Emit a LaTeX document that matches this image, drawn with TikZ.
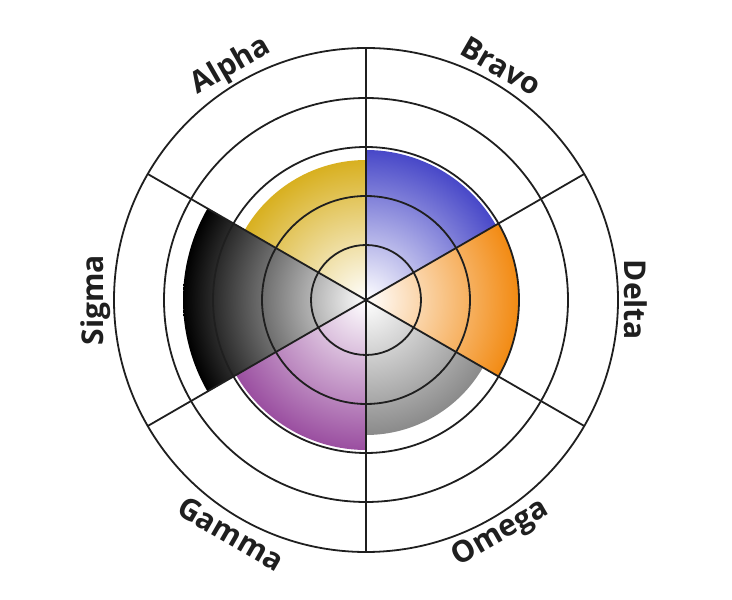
\documentclass[tikz,border=0pt]{standalone}
\usepackage{fontspec}
\setmainfont{Open Sans}
\usetikzlibrary{calc}
\begin{document}
\begin{tikzpicture}[x=1pt,y=1pt,
  grid/.style={draw=black!88,line width=1.8pt},
  lab/.style={font=\fontsize{30}{33}\selectfont\bfseries,text=black!88,inner sep=0pt}]
\useasboundingbox (0,0) rectangle (732,600);
\coordinate (c) at (366,300);
\definecolor{cA}{HTML}{D8B020}
\definecolor{cB}{HTML}{4848C8}
\definecolor{cD}{HTML}{F28A12}
\definecolor{cO}{HTML}{8A8A8A}
\definecolor{cG}{HTML}{9A4EA0}
\definecolor{cS}{HTML}{000000}
\foreach \a/\r/\col in {90/150/cB, 30/153/cD, -30/135/cO, -90/150/cG, -150/183/cS, 150/140/cA}{
  \begin{scope}
    \clip (c) -- ++(\a:\r) arc[start angle=\a, end angle=\a-60, radius=\r] -- cycle;
    \shade[inner color=white, outer color=\col] (c) circle (\r);
  \end{scope}
}
\foreach \r in {55,104,153,202,252}{ \draw[grid] (c) circle (\r); }
\foreach \a in {90,30,-30,-90,-150,150}{ \draw[grid] (c) -- ++(\a:252) coordinate (e\a); }
\node[lab,rotate=30] (alpha) at ($(c)+(120:270)$) {Alpha};
\node[lab,rotate=-30] (bravo) at ($(c)+(60:270)$) {Bravo};
\node[lab,rotate=-90] (delta) at ($(c)+(0:270)$) {Delta};
\node[lab,rotate=30] (omega) at ($(c)+(-60:270)$) {Omega};
\node[lab,rotate=-30] (gamma) at ($(c)+(-120:270)$) {Gamma};
\node[lab,rotate=90] (sigma) at ($(c)+(180:270)$) {Sigma};
\end{tikzpicture}
\end{document}
